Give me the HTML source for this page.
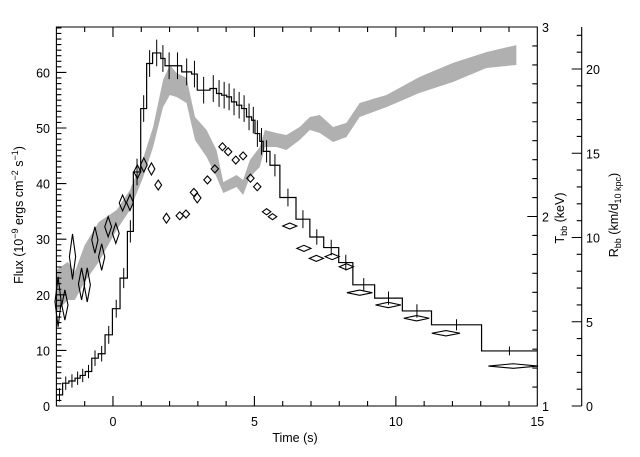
<!DOCTYPE html>
<html><head><meta charset="utf-8"><style>
html,body{margin:0;padding:0;background:#fff;}
svg{display:block;font-family:"Liberation Sans",sans-serif;}
text{font-size:12.5px;fill:#000;}
</style></head><body>
<svg id="chart" width="640" height="457" viewBox="0 0 640 457" xmlns="http://www.w3.org/2000/svg">
<g id="band"></g>
<g id="hist"></g>
<g id="diam"></g>
<g id="axes"></g>
<text x="295" y="442" text-anchor="middle">Time (s)</text>
<text transform="translate(23,215) rotate(-90)" text-anchor="middle">Flux (10<tspan dy="-5" font-size="9">−9</tspan><tspan dy="5"> ergs cm</tspan><tspan dy="-5" font-size="9">−2</tspan><tspan dy="5"> s</tspan><tspan dy="-5" font-size="9">−1</tspan><tspan dy="5">)</tspan></text>
<text transform="translate(564,218) rotate(-90)" text-anchor="middle">T<tspan dy="3" font-size="9">bb</tspan><tspan dy="-3"> (keV)</tspan></text>
<text transform="translate(618,215) rotate(-90)" text-anchor="middle">R<tspan dy="3" font-size="9">bb</tspan><tspan dy="-3"> (km/d</tspan><tspan dy="3" font-size="9">10 kpc</tspan><tspan dy="-3">)</tspan></text>
</svg>
<script>
// histogram (flux)
const histEdges=[-2,-1.78,-1.56,-1.34,-1.16,-0.98,-0.75,-0.52,-0.28,-0.02,0.25,0.51,0.72,0.98,1.19,1.40,1.69,1.84,2.13,2.43,2.78,2.98,3.43,3.66,3.84,4.02,4.19,4.37,4.55,4.72,4.90,5.02,5.19,5.31,5.55,5.90,6.47,6.96,7.45,7.98,8.48,9.25,10.23,11.26,13.03,15];
const histFlux=[2.0,4.1,4.5,5.0,5.5,6.2,8.6,9.4,12.8,17.5,23.0,31.4,42.1,53.5,61.6,63.5,62.5,61.2,61.2,60.1,59.7,56.8,57.1,56.2,55.9,55.6,54.7,54.1,53.5,52.0,51.4,49.0,47.6,45.8,43.3,37.5,33.6,30.4,28.5,25.8,21.8,19.4,17.1,14.6,9.9];
const histErr=[1.2,1.2,1.2,1.2,1.2,1.2,1.4,1.4,1.6,1.6,1.8,2.0,2.4,2.4,2.4,2.4,2.4,2.4,2.4,2.4,2.4,2.4,2.4,2.4,2.4,2.4,2.4,2.4,2.4,2.4,2.4,2.4,2.4,2.0,2.0,1.6,1.6,1.4,1.4,1.4,1.2,1.2,1.2,1.0,0.8];
// radius band
const bandTime=[-2.0,-1.6,-1.35,-1.0,-0.5,0.13,0.6,1.07,1.42,1.77,2.01,2.25,2.6,2.9,3.31,3.66,3.9,4.37,4.6,4.84,5.19,5.37,5.78,6.13,6.6,6.96,7.31,7.78,8.25,8.72,9.67,10.84,12.02,13.2,14.26];
const bandHigh=[8.07,8.55,7.95,9.55,10.92,11.63,12.82,14.72,16.56,19.35,20.24,19.76,19.47,17.15,16.38,15.19,13.29,13.71,13.41,14.6,15.37,16.38,16.2,16.08,16.56,17.15,17.27,16.56,16.8,17.98,18.46,19.53,20.36,21.0,21.42];
const bandLow=[5.58,6.29,6.29,7.36,8.55,10.45,11.63,13.59,15.37,17.74,18.46,18.34,17.98,15.79,14.78,13.59,12.64,13.0,12.52,13.59,14.18,15.37,15.37,15.19,15.79,16.38,16.2,15.67,15.96,17.15,17.74,18.58,19.23,20.06,20.24];
// temperature diamonds
const tTime=[-1.94,-1.70,-1.43,-1.11,-0.91,-0.64,-0.40,-0.17,0.10,0.34,0.60,0.86,1.09,1.36,1.60,1.89,2.36,2.58,2.86,2.98,3.34,3.60,3.87,4.07,4.34,4.60,4.86,5.10,5.43,5.64,6.25,6.75,7.19,7.75,8.25,8.72,9.73,10.73,11.77,14.15];
const tTemp=[1.550,1.533,1.788,1.644,1.639,1.876,1.786,1.946,1.911,2.071,2.074,2.236,2.272,2.251,2.166,1.991,2.004,2.013,2.127,2.098,2.193,2.251,2.368,2.342,2.298,2.320,2.202,2.157,2.025,1.999,1.950,1.832,1.779,1.788,1.735,1.598,1.533,1.463,1.384,1.211];
const tTimeErr=[0.11,0.11,0.11,0.11,0.11,0.11,0.11,0.12,0.12,0.12,0.12,0.12,0.12,0.12,0.12,0.12,0.13,0.13,0.13,0.13,0.13,0.13,0.13,0.13,0.13,0.13,0.13,0.13,0.15,0.15,0.25,0.25,0.25,0.25,0.25,0.45,0.45,0.45,0.5,0.88];
const tTempErr=[0.132,0.08,0.12,0.085,0.09,0.07,0.07,0.053,0.053,0.042,0.042,0.037,0.037,0.032,0.026,0.026,0.021,0.021,0.021,0.026,0.021,0.021,0.021,0.021,0.021,0.021,0.021,0.021,0.016,0.016,0.016,0.016,0.016,0.016,0.016,0.014,0.014,0.014,0.014,0.012];

const L=56.4,R=537.3,T=27,B=406;
const xS=t=>L+(t+2)/17*(R-L);
const yF=f=>B-f*5.56;
const yT=k=>B-(k-1)/2*(B-T);
const yR=r=>B-r*16.85;
const NS='http://www.w3.org/2000/svg';
function mk(tag,parent,attrs){const e=document.createElementNS(NS,tag);for(const k in attrs)e.setAttribute(k,attrs[k]);parent.appendChild(e);return e;}

// band
const band=document.getElementById('band');
let pts=bandTime.map((t,i)=>xS(t)+','+yR(bandHigh[i]));
for(let i=bandTime.length-1;i>=0;i--)pts.push(xS(bandTime[i])+','+yR(bandLow[i]));
const poly=mk('polygon',band,{points:pts.join(' '),fill:'#b0b0b0',stroke:'none'});



// histogram
const hist=document.getElementById('hist');
let d='';
histFlux.forEach((f,i)=>{const x0=xS(histEdges[i]),x1=xS(histEdges[i+1]),y=yF(f);d+=(i===0?'M':'L')+x0+','+y+'L'+x1+','+y;});
const hp=mk('path',hist,{d:d,fill:'none',stroke:'#000','stroke-width':1.2});


let ed='';
histFlux.forEach((f,i)=>{const xc=xS((histEdges[i]+histEdges[i+1])/2);ed+='M'+xc+','+yF(f-histErr[i])+'L'+xc+','+yF(f+histErr[i]);});
const ep=mk('path',hist,{d:ed,stroke:'#000','stroke-width':1,fill:'none'});



// diamonds
const diam=document.getElementById('diam');
tTime.forEach((t,i)=>{
  const cx=xS(t),cy=yT(tTemp[i]);
  const hw=xS(t+tTimeErr[i])-cx, hh=cy-yT(tTemp[i]+tTempErr[i]);
  const p=mk('polygon',diam,{points:`${cx-hw},${cy} ${cx},${cy-hh} ${cx+hw},${cy} ${cx},${cy+hh}`,fill:'none',stroke:'#000','stroke-width':1.1});
  
  
});

// axes
const ax=document.getElementById('axes');
let a=`M${L},${T}L${R},${T}L${R},${B}L${L},${B}Z`;
for(let t=-2;t<=15;t++){const x=xS(t),len=(t%5===0)?10:5;a+=`M${x},${B}L${x},${B-len}M${x},${T}L${x},${T+len}`;}
for(let f=0;f<=68;f++){const y=yF(f),len=(f%10===0)?10:5;a+=`M${L},${y}L${L+len},${y}`;}
for(let k=10;k<=30;k++){const y=yT(k/10),len=(k%10===0)?10:5;a+=`M${R},${y}L${R-len},${y}`;}
const RX=581.7;
a+=`M${RX},${T}L${RX},${B}`;
for(let r=0;r<=22;r++){const y=yR(r),len=(r%5===0)?10:5;a+=`M${RX},${y}L${RX-len},${y}`;}
const apath=mk('path',ax,{d:a,stroke:'#000','stroke-width':1.1,fill:'none'});


const xTicks=[0,5,10,15];
xTicks.forEach(v=>{const e=mk('text',ax,{x:xS(v),y:426,'text-anchor':'middle'});e.textContent=v;

});
const fTicks=[0,10,20,30,40,50,60];
fTicks.forEach(v=>{const e=mk('text',ax,{x:50,y:yF(v)+5,'text-anchor':'end'});e.textContent=v;

});
const tTicks=[1,2,3];
tTicks.forEach(v=>{const e=mk('text',ax,{x:542,y:yT(v)+5});e.textContent=v;

});
const rTicks=[0,5,10,15,20];
rTicks.forEach(v=>{const e=mk('text',ax,{x:586,y:yR(v)+5});e.textContent=v;

});
</script>
</body></html>
